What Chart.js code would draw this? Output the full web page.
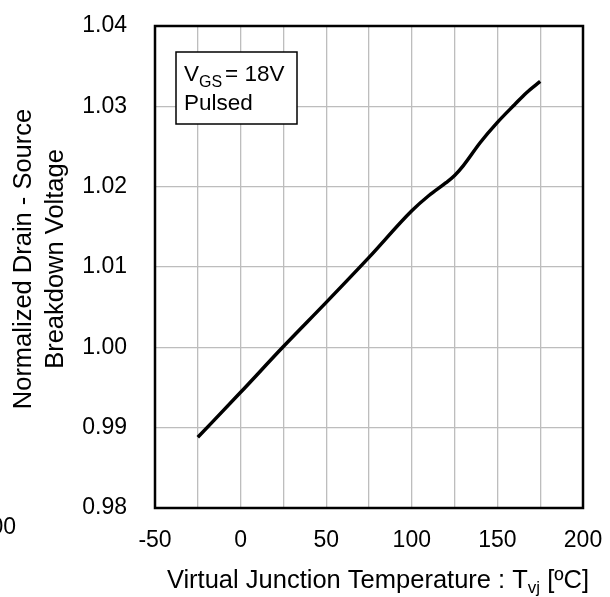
<!DOCTYPE html>
<html>
<head>
<meta charset="utf-8">
<script src="https://cdn.jsdelivr.net/npm/chart.js@4.4.1/dist/chart.umd.min.js"></script>
<style>
  html, body { margin: 0; padding: 0; background: #fff; }
  #wrap { width: 610px; height: 597px; }
</style>
</head>
<body>
<div id="wrap"><canvas id="c" width="610" height="597"></canvas></div>
<script>
// Data
const temperatures = [-25, 0, 25, 50, 75, 100, 110, 120, 125, 130, 140, 150, 160, 167, 175];
const breakdownVoltage = [0.9888, 0.9944, 1.0001, 1.0056, 1.0112, 1.0170, 1.0189, 1.0205, 1.0214, 1.0226, 1.0255, 1.0280, 1.0302, 1.0317, 1.0331];
const xTickLabels = [-50, 0, 50, 100, 150, 200];
const yTickLabels = ['0.98', '0.99', '1.00', '1.01', '1.02', '1.03', '1.04'];

const FONT = '"Liberation Sans", Arial, Helvetica, sans-serif';

const points = temperatures.map((t, i) => ({ x: t, y: breakdownVoltage[i] }));

const decorPlugin = {
  id: 'decor',
  afterDatasetsDraw(chart) {
    const ctx = chart.ctx;
    const a = chart.chartArea;
    ctx.save();
    // plot frame
    ctx.strokeStyle = '#000';
    ctx.lineWidth = 2.5;
    ctx.strokeRect(a.left, a.top, a.right - a.left, a.bottom - a.top);

    // annotation box
    ctx.fillStyle = '#fff';
    ctx.fillRect(176, 52, 121, 72);
    ctx.lineWidth = 1.5;
    ctx.strokeRect(176, 52, 121, 72);
    ctx.fillStyle = '#000';
    ctx.textBaseline = 'alphabetic';
    ctx.textAlign = 'left';
    ctx.font = '22.5px ' + FONT;
    let x = 184;
    ctx.fillText('V', x, 81);
    x += ctx.measureText('V').width;
    ctx.font = '16px ' + FONT;
    ctx.fillText('GS', x, 87);
    x += ctx.measureText('GS').width + 3;
    ctx.font = '22.5px ' + FONT;
    ctx.fillText('= 18V', x, 81);
    ctx.fillText('Pulsed', 184, 110);

    // x axis title with subscript
    const main = 'Virtual Junction Temperature : T';
    const sub = 'vj';
    const tail = ' [ºC]';
    const big = '25.5px ' + FONT, small = '17px ' + FONT;
    ctx.font = big;
    const w1 = ctx.measureText(main).width;
    const w3 = ctx.measureText(tail).width;
    ctx.font = small;
    const w2 = ctx.measureText(sub).width;
    const total = w1 + w2 + w3;
    let tx = 378 - total / 2;
    const base = 588;
    ctx.font = big;
    ctx.fillText(main, tx, base);
    tx += w1;
    ctx.font = small;
    ctx.fillText(sub, tx, base + 5);
    tx += w2;
    ctx.font = big;
    ctx.fillText(tail, tx, base);

    // y axis title (two lines, rotated)
    ctx.save();
    ctx.font = big;
    ctx.textAlign = 'center';
    ctx.textBaseline = 'middle';
    ctx.translate(24, 259);
    ctx.rotate(-Math.PI / 2);
    ctx.fillText('Normalized Drain - Source', 0, 0);
    ctx.fillText('Breakdown Voltage', 0, 32);
    ctx.restore();

    // fragment of neighbouring figure at the left edge
    ctx.font = '23px ' + FONT;
    ctx.textAlign = 'right';
    ctx.textBaseline = 'middle';
    ctx.fillText('200', 16, 528);
    ctx.restore();
  }
};

new Chart(document.getElementById('c'), {
  type: 'line',
  data: {
    datasets: [{
      data: points,
      borderColor: '#000',
      borderWidth: 3.5,
      pointRadius: 0,
      fill: false,
      cubicInterpolationMode: 'monotone'
    }]
  },
  options: {
    responsive: false,
    animation: false,
    devicePixelRatio: 1,
    layout: { padding: { left: 0, right: 27, top: 26, bottom: 0 } },
    plugins: { legend: { display: false }, tooltip: { enabled: false } },
    scales: {
      x: {
        type: 'linear',
        min: -50,
        max: 200,
        afterFit(s) {
          s.height = 89;
          s.paddingLeft = 0; s.paddingRight = 0; s.paddingTop = 0; s.paddingBottom = 0;
        },
        afterBuildTicks(s) {
          const t = [];
          for (let v = -50; v <= 200; v += 25) t.push({ value: v });
          s.ticks = t;
        },
        grid: { color: '#bdbdbd', lineWidth: 1.3, drawTicks: false },
        border: { display: false },
        ticks: {
          padding: 19,
          color: '#000',
          font: { family: FONT, size: 23 },
          maxRotation: 0,
          autoSkip: false,
          callback: (v) => xTickLabels.includes(v) ? String(v) : ''
        }
      },
      y: {
        type: 'linear',
        min: 0.98,
        max: 1.04,
        afterFit(s) {
          s.width = 155;
          s.paddingLeft = 0; s.paddingRight = 0; s.paddingTop = 0; s.paddingBottom = 0;
        },
        afterBuildTicks(s) {
          s.ticks = yTickLabels.map(l => ({ value: parseFloat(l) }));
        },
        grid: { color: '#bdbdbd', lineWidth: 1.3, drawTicks: false },
        border: { display: false },
        ticks: {
          padding: 28,
          color: '#000',
          font: { family: FONT, size: 23 },
          autoSkip: false,
          callback: (v) => {
            const l = yTickLabels.find(s => Math.abs(parseFloat(s) - v) < 1e-6);
            return l || '';
          }
        }
      }
    }
  },
  plugins: [decorPlugin]
});
</script>
</body>
</html>
